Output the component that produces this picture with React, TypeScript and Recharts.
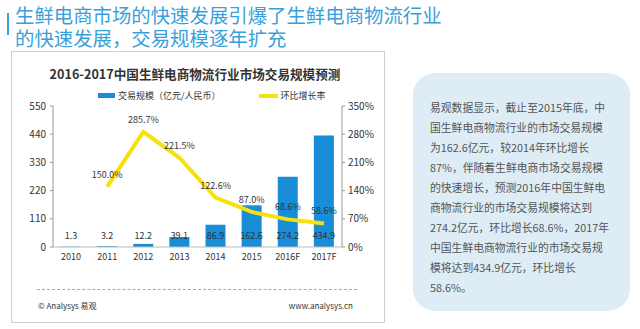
import React from 'react';
import { ComposedChart, Bar, Line, XAxis, YAxis, LabelList, Legend } from 'recharts';

const years = ['2010', '2011', '2012', '2013', '2014', '2015', '2016F', '2017F'];
const scale = [1.3, 3.2, 12.2, 39.1, 86.9, 162.6, 274.2, 434.9];
const growth = [null, 150.0, 285.7, 221.5, 122.6, 87.0, 68.6, 58.6];
const leftTicks = [0, 110, 220, 330, 440, 550];
const rightTicks = [0, 70, 140, 210, 280, 350];

const noteLines = [
  '易观数据显示，截止至2015年底，中',
  '国生鲜电商物流行业的市场交易规模',
  '为162.6亿元，较2014年环比增长',
  '87%，伴随着生鲜电商市场交易规模',
  '的快速增长，预测2016年中国生鲜电',
  '商物流行业的市场交易规模将达到',
  '274.2亿元，环比增长68.6%，2017年',
  '中国生鲜电商物流行业的市场交易规',
  '模将达到434.9亿元，环比增长',
  '58.6%。',
];

const FONT = '"Noto Sans CJK SC", "Noto Sans", sans-serif';
const BLUE = '#178ed7';
const YELLOW = '#f6e10c';

const chartData = years.map((y, i) => ({ year: y, scale: scale[i], growth: growth[i] }));

const LegendBox = () => (
  <div style={{ display: 'flex', alignItems: 'center', fontSize: 9, color: '#333', fontFamily: FONT }}>
    <span style={{ display: 'inline-block', width: 17, height: 5, background: BLUE, marginRight: 3 }} />
    <span>交易规模（亿元/人民币）</span>
    <span style={{ display: 'inline-block', width: 19, height: 4, background: YELLOW, marginLeft: 38, marginRight: 3 }} />
    <span>环比增长率</span>
  </div>
);

export default function App() {
  return (
    <div style={{ position: 'absolute', left: 0, top: 0, width: 640, height: 329, background: '#fff', fontFamily: FONT, overflow: 'hidden' }}>
      {/* headline */}
      <div style={{ position: 'absolute', left: 7, top: 13, width: 2, height: 22, background: '#3a9fd9' }} />
      <div style={{ position: 'absolute', left: 15, top: 3, fontSize: 19.4, lineHeight: '23px', color: '#3a9fd9', whiteSpace: 'nowrap' }}>
        <div>生鲜电商市场的快速发展引爆了生鲜电商物流行业</div>
        <div>的快速发展，交易规模逐年扩充</div>
      </div>

      {/* chart frame */}
      <div style={{ position: 'absolute', left: 11, top: 51, width: 372, height: 270, border: '1px solid #cfcfcf' }} />
      <div style={{ position: 'absolute', left: 8, top: 64, width: 374, textAlign: 'center', fontSize: 12.6, fontWeight: 'bold', color: '#333', whiteSpace: 'nowrap' }}>
        2016-2017中国生鲜电商物流行业市场交易规模预测
      </div>

      <div style={{ position: 'absolute', left: 0, top: 0 }}>
        <ComposedChart width={400} height={300} data={chartData} margin={{ top: 106, right: 18, left: 0, bottom: 10 }}>
          <Legend content={() => <LegendBox />} wrapperStyle={{ position: 'absolute', left: 98, top: 89, width: 260 }} />
          <XAxis
            dataKey="year"
            tick={{ fill: '#333', fontSize: 9 }}
            axisLine={{ stroke: '#bbb' }}
            tickLine={false}
            tickMargin={1}
            height={30}
          />
          <YAxis
            yAxisId="left"
            domain={[0, 550]}
            ticks={leftTicks}
            width={53}
            tick={{ fill: '#333', fontSize: 10 }}
            axisLine={{ stroke: '#999' }}
            tickLine={{ stroke: '#999' }}
            tickSize={3}
            tickMargin={4}
          />
          <YAxis
            yAxisId="right"
            orientation="right"
            domain={[0, 350]}
            ticks={rightTicks}
            width={40}
            tickFormatter={(v) => `${v}%`}
            tick={{ fill: '#333', fontSize: 10 }}
            axisLine={{ stroke: '#999' }}
            tickLine={{ stroke: '#999' }}
            tickSize={3}
            tickMargin={3}
          />
          <Bar yAxisId="left" dataKey="scale" fill={BLUE} barSize={20} isAnimationActive={false}>
            <LabelList dataKey="scale" position="insideBottom" offset={8} fill="#2b3440" fontSize={9} />
          </Bar>
          <Line
            yAxisId="right"
            dataKey="growth"
            stroke={YELLOW}
            strokeWidth={4}
            dot={false}
            type="linear"
            isAnimationActive={false}
          >
            <LabelList
              dataKey="growth"
              position="top"
              offset={9}
              fill="#333"
              fontSize={9}
              formatter={(v: any) => (v == null ? '' : `${Number(v).toFixed(1)}%`)}
            />
          </Line>
        </ComposedChart>
      </div>

      {/* footer */}
      <div style={{ position: 'absolute', left: 37, top: 289, width: 320, borderTop: '1px dashed #aaa' }} />
      <div style={{ position: 'absolute', left: 38, top: 300, fontSize: 8, color: '#333' }}>© Analysys 易观</div>
      <div style={{ position: 'absolute', left: 253, top: 300, width: 100, textAlign: 'right', fontSize: 8, color: '#333' }}>www.analysys.cn</div>

      {/* note box */}
      <div style={{ position: 'absolute', left: 413, top: 73, width: 217, height: 238, borderRadius: 22, background: '#ddecf5' }} />
      <div style={{ position: 'absolute', left: 430, top: 97, fontSize: 10.8, lineHeight: '20px', color: '#555', whiteSpace: 'nowrap' }}>
        {noteLines.map((l, i) => (
          <div key={i}>{l}</div>
        ))}
      </div>
    </div>
  );
}
